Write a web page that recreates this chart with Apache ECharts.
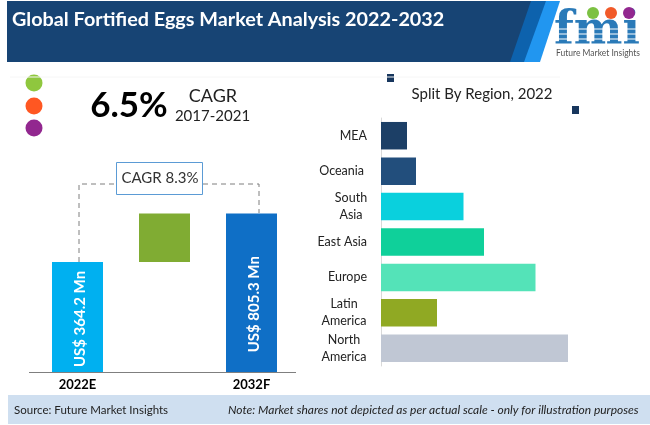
<!DOCTYPE html>
<html>
<head>
<meta charset="utf-8">
<script src="https://cdn.jsdelivr.net/npm/echarts@6/dist/echarts.min.js"></script>
<style>
html, body { margin: 0; padding: 0; background: #fff; }
#main { width: 650px; height: 425px; }
</style>
</head>
<body>
<div id="main"></div>
<script>
var chartTitle = 'Global Fortified Eggs Market Analysis 2022-2032';
var splitTitle = 'Split By Region, 2022';
var sourceText = 'Source: Future Market Insights';
var noteText = 'Note: Market shares not depicted as per actual scale - only for illustration purposes';

var yearNames = ['2022E', '', '2032F'];
var marketValues = [364.2, 805.3];
// the picture says "not to scale", so these are the drawn heights of the bars
var drawnStart = [110, 0, 158.5];
var gapBase = [0, 110, 0];
var gapRise = [0, 48.5, 0];

var regionNames = ['MEA', 'Oceania', 'South\nAsia', 'East Asia', 'Europe', 'Latin\nAmerica', 'North\nAmerica'];
var regionShares = [26, 35, 82.5, 103, 154.5, 56, 187];

var regionColors = ['#1c3f66', '#224e7c', '#0ad0dd', '#0fd09a', '#54e3b8', '#90a923', '#c0c7d4'];
var font = 'Lato, "Open Sans", sans-serif';

var myChart = echarts.init(document.getElementById('main'));

// rotated labels take their offset in the rotated frame
function valueLabel(value, shiftDown) {
	return {
		show: true,
		position: 'inside',
		rotate: 90,
		offset: [-shiftDown, 2.5],
		formatter: 'US$ ' + value + ' Mn',
		color: '#fff',
		fontFamily: font,
		fontWeight: 'bold',
		fontSize: 15
	};
}

function regionLabel(name) {
	var lines = name.split('\n');
	if (lines.length === 1) {
		return name === 'Oceania' ? name + '{gap|}' : name;
	}
	var key = lines[0] === 'South' ? 'narrow' : 'wide';
	return lines.map(function (line) {
		return '{' + key + '|' + line + '}';
	}).join('\n');
}

option = {
	backgroundColor: '#fff',
	animation: false,
	textStyle: { fontFamily: font },
	grid: [
		{ left: 34, top: 172, width: 261, height: 200 },
		{ left: 381, top: 118, width: 200, height: 248 }
	],
	xAxis: [
		{
			type: 'category',
			gridIndex: 0,
			data: yearNames,
			axisTick: { show: false },
			axisLine: { lineStyle: { color: '#7f7f7f', width: 1 } },
			axisLabel: { margin: 6, color: '#000', fontFamily: font, fontWeight: 'bold', fontSize: 13, interval: 0 }
		},
		{
			type: 'value',
			gridIndex: 1,
			min: 0,
			max: 200,
			show: false
		}
	],
	yAxis: [
		{
			type: 'value',
			gridIndex: 0,
			min: 0,
			max: 200,
			show: false
		},
		{
			type: 'category',
			gridIndex: 1,
			inverse: true,
			data: regionNames,
			axisLine: { lineStyle: { color: '#d9d9d9', width: 1 } },
			axisTick: { length: 4, lineStyle: { color: '#d9d9d9' } },
			axisLabel: {
				margin: 14,
				color: '#222',
				fontFamily: font,
				fontSize: 12.5,
				lineHeight: 17,
				interval: 0,
				formatter: regionLabel,
				rich: {
					narrow: { width: 32, align: 'center', fontFamily: font, fontSize: 12.5, lineHeight: 17, color: '#222' },
					wide: { width: 46, align: 'center', fontFamily: font, fontSize: 12.5, lineHeight: 17, color: '#222' },
					gap: { width: 3 }
				}
			}
		}
	],
	series: [
		{
			type: 'bar',
			name: 'Market value',
			xAxisIndex: 0,
			yAxisIndex: 0,
			barGap: '-100%',
			barWidth: 51,
			data: [
				{ value: drawnStart[0], itemStyle: { color: '#00b0f0' }, label: valueLabel(marketValues[0], 2) },
				{ value: drawnStart[1], itemStyle: { color: 'transparent' } },
				{ value: drawnStart[2], itemStyle: { color: '#0f6fc6' }, label: valueLabel(marketValues[1], 11.5) }
			]
		},
		{
			type: 'bar',
			name: 'base',
			stack: 'gap',
			xAxisIndex: 0,
			yAxisIndex: 0,
			barWidth: 51,
			itemStyle: { color: 'transparent' },
			data: gapBase
		},
		{
			type: 'bar',
			name: 'rise',
			stack: 'gap',
			xAxisIndex: 0,
			yAxisIndex: 0,
			barWidth: 51,
			itemStyle: { color: '#80ac33' },
			data: gapRise
		},
		{
			type: 'bar',
			name: 'Region',
			xAxisIndex: 1,
			yAxisIndex: 1,
			barWidth: 27.5,
			itemStyle: {
				color: function (p) { return regionColors[p.dataIndex]; }
			},
			data: regionShares
		}
	],
	graphic: [
		// header band
		{ type: 'polygon', z: 1, shape: { points: [[7, 1], [560, 1], [540, 62], [7, 62]] }, style: { fill: '#2196f0' } },
		{ type: 'polygon', z: 2, shape: { points: [[7, 1], [546, 1], [524, 62], [7, 62]] }, style: { fill: '#0d62ad' } },
		{ type: 'polygon', z: 3, shape: { points: [[7, 1], [531, 1], [510, 62], [7, 62]] }, style: { fill: '#174474' } },
		{ type: 'text', z: 4, x: 12, y: 20, style: { text: chartTitle, fill: '#fff', font: 'bold 19.8px ' + font, textVerticalAlign: 'middle' } },

		// logo
		{ type: 'text', z: 4, x: 597, y: 32, style: { text: 'fmi', fill: '#2a7ab8', font: 'bold 46px "DejaVu Serif", serif', textAlign: 'center', textVerticalAlign: 'middle' } },
		{ type: 'line', z: 5, shape: { x1: 555, y1: 29, x2: 640, y2: 29 }, style: { stroke: '#fff', lineWidth: 1 } },
		{ type: 'line', z: 5, shape: { x1: 555, y1: 34, x2: 640, y2: 34 }, style: { stroke: '#fff', lineWidth: 1 } },
		{ type: 'line', z: 5, shape: { x1: 555, y1: 39, x2: 640, y2: 39 }, style: { stroke: '#fff', lineWidth: 1 } },
		{ type: 'line', z: 5, shape: { x1: 555, y1: 44, x2: 640, y2: 44 }, style: { stroke: '#fff', lineWidth: 1 } },
		{ type: 'circle', z: 6, shape: { cx: 593, cy: 13, r: 6 }, style: { fill: '#7cc142' } },
		{ type: 'circle', z: 6, shape: { cx: 611, cy: 13, r: 6 }, style: { fill: '#f15a29' } },
		{ type: 'circle', z: 6, shape: { cx: 629, cy: 13, r: 6 }, style: { fill: '#92278f' } },
		{ type: 'text', z: 6, x: 598, y: 53, style: { text: 'Future Market Insights', fill: '#555', font: '8.5px ' + font, textAlign: 'center', textVerticalAlign: 'middle' } },

		// left column headline
		{ type: 'line', z: 1, shape: { x1: 10, y1: 77, x2: 560, y2: 77 }, style: { stroke: '#f6f6f6', lineWidth: 1 } },
		{ type: 'circle', shape: { cx: 34, cy: 83, r: 8.5 }, style: { fill: '#8fc73e' } },
		{ type: 'circle', shape: { cx: 34, cy: 106, r: 8.5 }, style: { fill: '#ff5722' } },
		{ type: 'circle', shape: { cx: 34, cy: 128, r: 8.5 }, style: { fill: '#92278f' } },
		{ type: 'text', x: 129, y: 106, style: { text: '6.5%', fill: '#000', font: 'bold 35px ' + font, textAlign: 'center', textVerticalAlign: 'middle' } },
		{ type: 'text', x: 213, y: 96, style: { text: 'CAGR', fill: '#222', font: '18px ' + font, textAlign: 'center', textVerticalAlign: 'middle' } },
		{ type: 'text', x: 212.5, y: 116, style: { text: '2017-2021', fill: '#222', font: '15px ' + font, textAlign: 'center', textVerticalAlign: 'middle' } },

		// CAGR bracket
		{ type: 'polyline', shape: { points: [[79, 262], [79, 184], [116, 184]] }, style: { stroke: '#7f7f7f', lineWidth: 1, lineDash: [5, 4], fill: null } },
		{ type: 'polyline', shape: { points: [[203, 184], [259, 184], [259, 213]] }, style: { stroke: '#7f7f7f', lineWidth: 1, lineDash: [5, 4], fill: null } },
		{ type: 'rect', shape: { x: 116.5, y: 162.5, width: 86, height: 32 }, style: { fill: '#fff', stroke: '#5b9bd5', lineWidth: 1 } },
		{ type: 'text', z: 5, x: 160, y: 178, style: { text: 'CAGR 8.3%', fill: '#333', font: '15px ' + font, textAlign: 'center', textVerticalAlign: 'middle' } },

		// baseline runs a little past the category axis on both sides
		{ type: 'line', shape: { x1: 29, y1: 372.5, x2: 296, y2: 372.5 }, style: { stroke: '#7f7f7f', lineWidth: 1 } },

		// right panel
		{ type: 'text', x: 482, y: 94, style: { text: splitTitle, fill: '#222', font: '15px ' + font, textAlign: 'center', textVerticalAlign: 'middle' } },
		{ type: 'rect', shape: { x: 387, y: 74, width: 7, height: 8 }, style: { fill: '#17365d' } },
		{ type: 'rect', shape: { x: 572, y: 106, width: 7, height: 8 }, style: { fill: '#17365d' } },

		// footer
		{ type: 'rect', z: 1, shape: { x: 8, y: 395, width: 642, height: 29 }, style: { fill: '#cfdff0' } },
		{ type: 'text', z: 2, x: 14, y: 410, style: { text: sourceText, fill: '#222', font: '11.5px ' + font, textVerticalAlign: 'middle' } },
		{ type: 'text', z: 2, x: 228, y: 410, style: { text: noteText, fill: '#222', font: 'italic 12px ' + font, textVerticalAlign: 'middle' } }
	]
};
myChart.setOption(option);
</script>
</body>
</html>
